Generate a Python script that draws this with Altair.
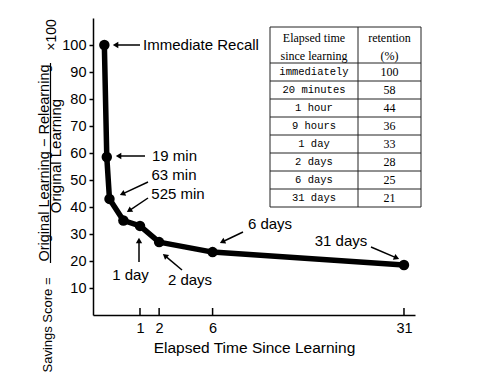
import math
import altair as alt
import pandas as pd

# ---------------- data ----------------
point_labels = ["Immediate Recall", "19 min", "63 min", "525 min",
                "1 day", "2 days", "6 days", "31 days"]
elapsed_days = [0.0, 19 / 1440, 63 / 1440, 525 / 1440, 1.0, 2.0, 6.0, 31.0]
savings_score = [100, 58.5, 43, 35, 33, 27, 23.3, 18.5]
x_tick_values = [1, 2, 6, 31]
y_tick_values = [10, 20, 30, 40, 50, 60, 70, 80, 90, 100]

table_header_left = ["Elapsed time", "since learning"]
table_header_right = ["retention", "(%)"]
table_times = ["immediately", "20 minutes", "1 hour", "9 hours",
               "1 day", "2 days", "6 days", "31 days"]
table_retention = ["100", "58", "44", "36", "33", "28", "25", "21"]

# ---------------- layout (pixels inside plot area) ----------------
W, H = 322, 297
FONT = "Liberation Sans"

ann_text_xy = [(108, 27), (81.5, 138), (81, 157), (85, 176),
               (37.5, 257), (97, 262), (177, 206), (248, 223)]
ann_arrows = [((47, 27), (20, 27)), ((52, 138), (23, 138)),
              ((55, 164), (27, 177)), ((55, 180), (34, 194)),
              ((46, 244), (46, 220)), ((89, 252), (70, 236)),
              ((150, 214), (127, 225)), ((278, 229), (306, 241))]

tab_left, tab_mid, tab_right = 177, 265, 328
tab_top, tab_head_bottom, row_h = 9, 45, 18

# ---------------- main curve ----------------
df = pd.DataFrame({"label": point_labels, "days": elapsed_days, "score": savings_score})

x_scale = alt.Scale(type="pow", exponent=0.62, domain=[-0.158, 32.86], nice=False, zero=False)
y_scale = alt.Scale(domain=[0, 110], nice=False, zero=False)

x_axis = alt.Axis(values=x_tick_values, ticks=False, tickSize=0, labelFontSize=14.5,
                  labelPadding=6, labelFont=FONT, labelColor="black",
                  title="Elapsed Time Since Learning", titleFont=FONT,
                  titleFontSize=15.5, titleFontWeight="normal",
                  titleColor="black", titlePadding=6, domainColor="black",
                  domainWidth=1.5, grid=False, format="d", labelFlush=False)
y_axis = alt.Axis(values=y_tick_values, tickSize=4, tickWidth=1.5,
                  tickColor="black", labelFontSize=14.5, labelPadding=3,
                  labelFont=FONT, labelColor="black", title=None,
                  domainColor="black", domainWidth=1.5, grid=False)

x_enc = alt.X("days:Q", scale=x_scale, axis=x_axis)
y_enc = alt.Y("score:Q", scale=y_scale, axis=y_axis)

line = alt.Chart(df).mark_line(color="black", strokeWidth=5.5, strokeJoin="round").encode(x=x_enc, y=y_enc)
dots = alt.Chart(df).mark_circle(size=110, color="black", opacity=1).encode(x=x_enc, y=y_enc)
tick_df = pd.DataFrame({"days": x_tick_values})
ticks = alt.Chart(tick_df).mark_rule(color="black", strokeWidth=1.5).encode(
    x=x_enc, y=alt.value(H), y2=alt.value(H - 7))
main = alt.layer(line, dots, ticks)

# ---------------- annotations ----------------
ann_df = pd.DataFrame({"label": point_labels,
                       "px": [p[0] for p in ann_text_xy],
                       "py": [p[1] for p in ann_text_xy]})
ann_text = alt.Chart(ann_df).mark_text(font=FONT, fontSize=15, color="black",
                                       align="center", baseline="middle").encode(
    x=alt.X("px:Q", scale=None), y=alt.Y("py:Q", scale=None), text="label:N")

shaft_rows, head_rows = [], []
for (tx, ty), (hx, hy) in ann_arrows:
    dx, dy = hx - tx, hy - ty
    n = math.hypot(dx, dy)
    ux, uy = dx / n, dy / n
    shaft_rows.append({"x": tx, "y": ty, "x2": hx - ux * 4, "y2": hy - uy * 4})
    ang = math.degrees(math.atan2(ux, -uy)) % 360
    head_rows.append({"x": hx - ux * 3.5, "y": hy - uy * 3.5, "ang": ang})
shafts = alt.Chart(pd.DataFrame(shaft_rows)).mark_rule(color="black", strokeWidth=1.5).encode(
    x=alt.X("x:Q", scale=None), y=alt.Y("y:Q", scale=None),
    x2="x2:Q", y2="y2:Q")
heads = alt.Chart(pd.DataFrame(head_rows)).mark_point(shape="triangle", filled=True, size=40,
                                                      color="black", opacity=1).encode(
    x=alt.X("x:Q", scale=None), y=alt.Y("y:Q", scale=None),
    angle=alt.Angle("ang:Q", scale=None))

# ---------------- y-axis title (fraction) ----------------
def rot_text(txt, px, py, fs):
    d = pd.DataFrame({"t": [txt], "px": [px], "py": [py]})
    return alt.Chart(d).mark_text(font=FONT, fontSize=fs, angle=270, color="black",
                                  align="center", baseline="middle").encode(
        x=alt.X("px:Q", scale=None), y=alt.Y("py:Q", scale=None), text="t:N")

yt_savings = rot_text("Savings Score =", -45.5, 307, 13)
yt_num = rot_text("Original Learning \u2212 Relearning", -48, 145, 14.5)
yt_den = rot_text("Original Learning", -37.5, 138, 15)
yt_mult = rot_text("\u00d7100", -41.5, 17, 14)
frac_bar = alt.Chart(pd.DataFrame({"x": [-42.5], "y": [45], "y2": [245]})).mark_rule(
    color="black", strokeWidth=1.2).encode(
    x=alt.X("x:Q", scale=None), y=alt.Y("y:Q", scale=None), y2="y2:Q")

# ---------------- table ----------------
n_rows = len(table_times)
tab_bottom = tab_head_bottom + row_h * n_rows
rule_rows = [{"x": tab_left, "y": tab_top, "x2": tab_right, "y2": tab_top},
             {"x": tab_left, "y": tab_head_bottom, "x2": tab_right, "y2": tab_head_bottom}]
for i in range(1, n_rows + 1):
    yy = tab_head_bottom + row_h * i
    rule_rows.append({"x": tab_left, "y": yy, "x2": tab_right, "y2": yy})
for xx in (tab_left, tab_mid, tab_right):
    rule_rows.append({"x": xx, "y": tab_top, "x2": xx, "y2": tab_bottom})
tab_rules = alt.Chart(pd.DataFrame(rule_rows)).mark_rule(color="#222", strokeWidth=1).encode(
    x=alt.X("x:Q", scale=None), y=alt.Y("y:Q", scale=None), x2="x2:Q", y2="y2:Q")

cx_left = (tab_left + tab_mid) / 2
cx_right = (tab_mid + tab_right) / 2
head_df = pd.DataFrame({
    "t": table_header_left + table_header_right,
    "px": [cx_left, cx_left, cx_right, cx_right],
    "py": [tab_top + 10.5, tab_top + 28.5, tab_top + 10.5, tab_top + 28.5],
})
tab_head = alt.Chart(head_df).mark_text(font="Liberation Serif", fontSize=12, color="black",
                                        align="center", baseline="middle").encode(
    x=alt.X("px:Q", scale=None), y=alt.Y("py:Q", scale=None), text="t:N")
body_y = [tab_head_bottom + row_h * i + row_h / 2 for i in range(n_rows)]
left_df = pd.DataFrame({"t": table_times, "px": [cx_left] * n_rows, "py": body_y})
right_df = pd.DataFrame({"t": table_retention, "px": [cx_right] * n_rows, "py": body_y})
tab_left_txt = alt.Chart(left_df).mark_text(font="Liberation Mono", fontSize=10.5, color="black",
                                            align="center", baseline="middle").encode(
    x=alt.X("px:Q", scale=None), y=alt.Y("py:Q", scale=None), text="t:N")
tab_right_txt = alt.Chart(right_df).mark_text(font="Liberation Serif", fontSize=12, color="black",
                                              align="center", baseline="middle").encode(
    x=alt.X("px:Q", scale=None), y=alt.Y("py:Q", scale=None), text="t:N")

chart = alt.layer(
    main, shafts, heads, ann_text, yt_savings, yt_num, yt_den, yt_mult, frac_bar,
    tab_rules, tab_head, tab_left_txt, tab_right_txt
).resolve_scale(x="independent", y="independent").properties(
    width=W, height=H,
    autosize=alt.AutoSizeParams(type="none"),
    padding={"left": 85, "top": 10, "right": 60, "bottom": 63},
    background="white",
).configure_view(stroke=None)

chart.save("out.html", embed_options={"renderer": "svg", "actions": False})
